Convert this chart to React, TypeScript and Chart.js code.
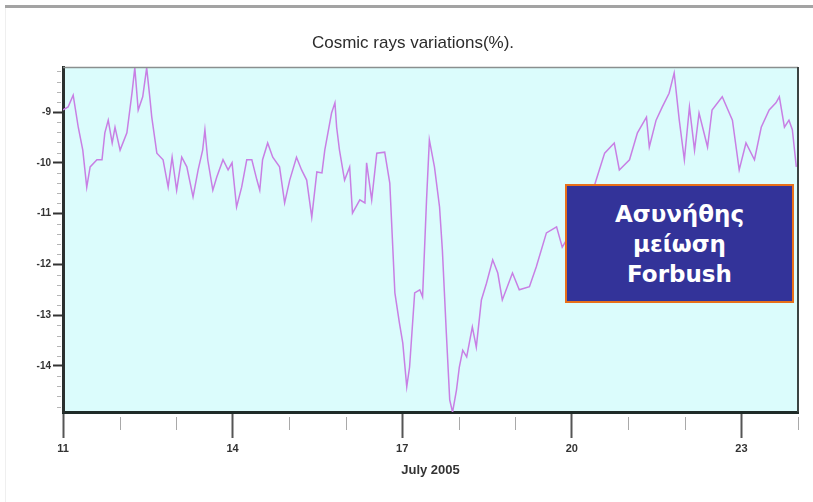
import React, { useEffect, useRef } from 'react';
import { Chart, registerables } from 'chart.js';

Chart.register(...registerables);

// July 2005, day of month (fractional) and cosmic ray variation (%)
const days = [
  11.00, 11.09, 11.18, 11.27, 11.35, 11.42, 11.48, 11.60, 11.69, 11.74, 11.80, 11.87, 11.92,
  12.01, 12.13, 12.22, 12.27, 12.33, 12.41, 12.48, 12.54, 12.57, 12.66, 12.77, 12.86, 12.93,
  13.01, 13.10, 13.19, 13.30, 13.39, 13.47, 13.51, 13.56, 13.65, 13.72, 13.83, 13.92, 13.99,
  14.07, 14.16, 14.25, 14.34, 14.43, 14.48, 14.53, 14.62, 14.71, 14.83, 14.92,
  15.01, 15.13, 15.22, 15.31, 15.40, 15.49, 15.58, 15.63, 15.75, 15.81, 15.84, 15.89, 15.98,
  16.07, 16.12, 16.25, 16.34, 16.37, 16.46, 16.55, 16.69, 16.78, 16.87, 16.95,
  17.01, 17.08, 17.13, 17.22, 17.31, 17.36, 17.43, 17.48, 17.57, 17.66, 17.71, 17.78, 17.84, 17.89, 17.96,
  18.01, 18.07, 18.14, 18.24, 18.31, 18.40, 18.49, 18.60, 18.69, 18.77, 18.95,
  19.07, 19.25, 19.37, 19.55, 19.73, 19.83, 19.96,
  20.10, 20.24, 20.35, 20.43, 20.58, 20.75, 20.84,
  21.02, 21.16, 21.32, 21.37, 21.49, 21.60, 21.72, 21.81, 21.90, 21.99,
  22.08, 22.17, 22.25, 22.40, 22.48, 22.66, 22.84, 22.96,
  23.08, 23.23, 23.35, 23.49, 23.61, 23.67, 23.76, 23.84, 23.90, 23.97,
];
const values = [
  -8.96, -8.90, -8.67, -9.30, -9.75, -10.48, -10.08, -9.94, -9.94, -9.41, -9.16, -9.61, -9.30,
  -9.75, -9.41, -8.63, -8.13, -8.96, -8.70, -8.13, -8.76, -9.10, -9.81, -9.94, -10.48, -9.89,
  -10.54, -9.89, -10.08, -10.67, -10.14, -9.75, -9.35, -9.94, -10.54, -10.28, -9.94, -10.14, -10.00,
  -10.87, -10.48, -9.94, -9.94, -10.34, -10.54, -9.94, -9.61, -9.89, -10.08, -10.79,
  -10.34, -9.89, -10.14, -10.34, -11.07, -10.18, -10.20, -9.75, -9.02, -8.82, -9.30, -9.75, -10.34,
  -10.08, -10.99, -10.73, -10.79, -10.00, -10.73, -9.81, -9.79, -10.40, -12.56, -13.15,
  -13.55, -14.41, -14.02, -12.56, -12.50, -12.64, -10.73, -9.55, -10.08, -10.87, -11.72, -13.35, -14.67, -14.91, -14.47,
  -14.02, -13.69, -13.82, -13.23, -13.63, -12.70, -12.37, -11.91, -12.17, -12.70, -12.17,
  -12.50, -12.44, -12.05, -11.38, -11.26, -11.66, -11.42,
  -11.03, -10.73, -10.63, -10.34, -9.81, -9.61, -10.14,
  -9.94, -9.41, -9.10, -9.69, -9.16, -8.90, -8.63, -8.23, -9.16, -9.94,
  -8.90, -9.75, -9.02, -9.69, -8.96, -8.70, -9.16, -10.14,
  -9.61, -9.94, -9.30, -8.96, -8.82, -8.70, -9.30, -9.16, -9.35, -10.08,
];

const majorDays = [11, 14, 17, 20, 23];
const xMin = 11;
const xMax = 24;
const yMin = -14.906;
const yMax = -8.114;
const chartTitle = 'Cosmic rays variations(%).';
const xAxisTitle = 'July 2005';
const noteLines = ['Ασυνήθης', 'μείωση', 'Forbush'];

const tickFont = "'Liberation Sans Narrow', 'Liberation Sans', Arial, sans-serif";

const framePlugin = {
  id: 'frame',
  beforeDraw(chart: any) {
    const { ctx, chartArea } = chart;
    const { left, top, right, bottom } = chartArea;
    ctx.save();
    ctx.fillStyle = '#dbfcfc';
    ctx.fillRect(left, top, right - left, bottom - top);
    ctx.restore();
  },
  afterDraw(chart: any) {
    const { ctx, chartArea, scales } = chart;
    const { left, top, right, bottom } = chartArea;
    ctx.save();
    ctx.strokeStyle = '#8a8f8e';
    ctx.lineWidth = 1.5;
    ctx.beginPath();
    ctx.moveTo(left, top + 0.5);
    ctx.lineTo(right, top + 0.5);
    ctx.stroke();
    ctx.strokeStyle = '#3c4442';
    ctx.lineWidth = 2;
    ctx.beginPath();
    ctx.moveTo(right, top);
    ctx.lineTo(right, bottom);
    ctx.stroke();
    const xs = scales.x;
    ctx.strokeStyle = '#a9a9a9';
    ctx.lineWidth = 1;
    for (let d = Math.ceil(xs.min); d <= xs.max; d++) {
      if (majorDays.includes(d)) continue;
      const px = Math.round(xs.getPixelForValue(d)) + 0.5;
      ctx.beginPath();
      ctx.moveTo(px, bottom + 5);
      ctx.lineTo(px, bottom + 18);
      ctx.stroke();
    }
    const ys = scales.y;
    ctx.strokeStyle = '#b5b5b5';
    for (let k = Math.ceil(ys.min * 5); k <= Math.floor(ys.max * 5); k++) {
      if (k % 5 === 0) continue;
      const py = Math.round(ys.getPixelForValue(k / 5)) + 0.5;
      ctx.beginPath();
      ctx.moveTo(left - 6, py);
      ctx.lineTo(left - 2, py);
      ctx.stroke();
    }
    ctx.restore();
  },
};

export default function App() {
  const canvasRef = useRef<HTMLCanvasElement | null>(null);

  useEffect(() => {
    const canvas = canvasRef.current;
    if (!canvas) return;
    const chart = new Chart(canvas, {
      type: 'line',
      data: {
        datasets: [
          {
            data: days.map((d, i) => ({ x: d, y: values[i] })),
            borderColor: '#c87fe4',
            borderWidth: 1.5,
            pointRadius: 0,
            tension: 0,
            fill: false,
          },
        ],
      },
      options: {
        animation: false,
        responsive: false,
        maintainAspectRatio: false,
        layout: { padding: { left: 28, right: 15, top: 0, bottom: 0 } },
        plugins: {
          legend: { display: false },
          tooltip: { enabled: false },
          title: {
            display: true,
            text: chartTitle,
            color: '#2b2b2b',
            font: { family: "'Liberation Sans', Arial, sans-serif", size: 17, weight: 'normal', lineHeight: 1.2 },
            padding: { top: 33, bottom: 13.6 },
          },
        },
        scales: {
          x: {
            type: 'linear',
            min: xMin,
            max: xMax,
            afterFit: (s: any) => {
              s.height = 90;
            },
            ticks: {
              stepSize: 1,
              autoSkip: false,
              maxRotation: 0,
              includeBounds: false,
              padding: 4,
              color: '#333',
              font: { family: tickFont, size: 11, weight: 'bold' },
              callback: (v: any) => (majorDays.includes(Number(v)) ? String(v) : ''),
            },
            grid: {
              drawOnChartArea: false,
              drawTicks: true,
              tickLength: 26,
              tickColor: (c: any) => (c.tick && majorDays.includes(c.tick.value) ? '#555' : 'rgba(0,0,0,0)'),
              tickWidth: 2,
            },
            border: { display: true, color: '#1f2b28', width: 3 },
            title: {
              display: true,
              text: xAxisTitle,
              color: '#333',
              font: { family: tickFont, size: 13, weight: 'bold' },
              padding: { top: 4, bottom: 24 },
            },
          },
          y: {
            type: 'linear',
            min: yMin,
            max: yMax,
            afterFit: (s: any) => {
              s.width = 35;
            },
            ticks: {
              stepSize: 1,
              includeBounds: false,
              padding: 2,
              color: '#333',
              font: { family: tickFont, size: 10, weight: 'bold' },
              callback: (v: any) => String(v),
            },
            grid: {
              drawOnChartArea: false,
              drawTicks: true,
              tickLength: 10,
              tickColor: '#333',
              tickWidth: 2,
            },
            border: { display: true, color: '#2a302e', width: 3 },
          },
        },
      },
      plugins: [framePlugin],
    } as any);
    return () => chart.destroy();
  }, []);

  return (
    <div style={{ position: 'absolute', left: 0, top: 0, width: 813, height: 502, background: '#fff', overflow: 'hidden' }}>
      <div style={{ position: 'absolute', left: 5, top: 5, right: 0, height: 3, background: '#a3a3a3' }} />
      <div style={{ position: 'absolute', left: 5, top: 8, width: 1, bottom: 0, background: '#efefef' }} />
      <canvas ref={canvasRef} width={813} height={502} style={{ position: 'absolute', left: 0, top: 0, width: 813, height: 502 }} />
      <div
        style={{
          position: 'absolute',
          left: 565,
          top: 184,
          width: 229,
          height: 119,
          boxSizing: 'border-box',
          background: '#333399',
          border: '2px solid #e8701a',
          color: '#fff',
          fontFamily: "'DejaVu Sans', Verdana, sans-serif",
          fontWeight: 'bold',
          fontSize: 23,
          lineHeight: '30px',
          display: 'flex',
          flexDirection: 'column',
          justifyContent: 'center',
          alignItems: 'center',
          textAlign: 'center',
        }}
      >
        {noteLines.map((t) => (
          <div key={t}>{t}</div>
        ))}
      </div>
    </div>
  );
}
